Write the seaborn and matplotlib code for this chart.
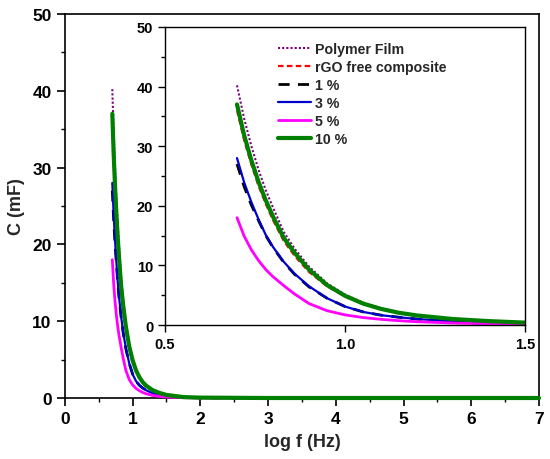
import numpy as np
import pandas as pd
import matplotlib
matplotlib.use("Agg")
import matplotlib.pyplot as plt
import seaborn as sns

# log f values (Hz) at which the curves were read
log_f = [0.70, 0.72, 0.74, 0.76, 0.78, 0.80, 0.83, 0.86, 0.90, 0.95,
         1.00, 1.05, 1.10, 1.15, 1.20, 1.30, 1.40, 1.50, 1.75, 2.00,
         3.00, 4.00, 5.00, 6.00, 7.00]

# capacitance (mF) for each sample
polymer_film = [40.2, 34.6, 30.0, 26.0, 22.6, 19.7, 15.6, 12.8, 9.8, 7.0,
                5.1, 3.75, 2.8, 2.1, 1.65, 1.02, 0.66, 0.42, 0.14, 0.06,
                0.0, 0.0, 0.0, 0.0, 0.0]
rgo_free = [36.0, 31.0, 26.9, 23.3, 20.3, 17.6, 14.1, 11.6, 8.9, 6.5,
            4.8, 3.55, 2.65, 2.0, 1.55, 0.95, 0.6, 0.38, 0.12, 0.05,
            0.0, 0.0, 0.0, 0.0, 0.0]
one_pct = [27.0, 23.2, 20.1, 17.5, 15.0, 13.0, 10.5, 8.5, 6.4, 4.5,
           3.1, 2.2, 1.65, 1.3, 1.0, 0.6, 0.35, 0.2, 0.06, 0.02,
           0.0, 0.0, 0.0, 0.0, 0.0]
three_pct = [28.0, 23.9, 20.6, 17.7, 15.1, 13.1, 10.6, 8.6, 6.5, 4.5,
             3.1, 2.2, 1.65, 1.3, 1.0, 0.6, 0.35, 0.2, 0.06, 0.02,
             0.0, 0.0, 0.0, 0.0, 0.0]
five_pct = [18.0, 14.9, 12.6, 10.8, 9.3, 8.1, 6.6, 5.2, 3.6, 2.4,
            1.7, 1.25, 0.95, 0.72, 0.55, 0.33, 0.2, 0.12, 0.04, 0.01,
            0.0, 0.0, 0.0, 0.0, 0.0]
ten_pct = [37.0, 31.8, 27.6, 24.0, 20.9, 18.2, 14.6, 12.1, 9.3, 6.7,
           4.9, 3.6, 2.7, 2.05, 1.6, 1.0, 0.65, 0.4, 0.12, 0.05,
           0.0, 0.0, 0.0, 0.0, 0.0]

series = [
    ("Polymer Film", polymer_film, "#800080", (0, (1, 1)), 1.5),
    ("rGO free composite", rgo_free, "#ff0000", (0, (2.5, 1.5)), 1.6),
    ("1 %", one_pct, "black", (0, (4, 3)), 2.0),
    ("3 %", three_pct, "#0000cc", "-", 1.6),
    ("5 %", five_pct, "#ff00ff", "-", 2.0),
    ("10 %", ten_pct, "#008000", "-", 3.0),
]

sns.set_style("ticks")
plt.rcParams["font.family"] = ["Liberation Sans", "DejaVu Sans"]
plt.rcParams["font.weight"] = "bold"
plt.rcParams["axes.labelweight"] = "bold"
plt.rcParams["axes.edgecolor"] = "black"
plt.rcParams["axes.linewidth"] = 1.2
plt.rcParams["xtick.color"] = "black"
plt.rcParams["ytick.color"] = "black"

fig = plt.figure(figsize=(5.5, 4.6), dpi=100)
ax = fig.add_axes([0.118, 0.1326, 0.862, 0.835])
ins = fig.add_axes([0.30, 0.2913, 0.6545, 0.648])

for name, vals, color, ls, lw in series:
    df = pd.DataFrame({"x": log_f, "y": vals})
    sns.lineplot(data=df, x="x", y="y", ax=ax, color=color, linestyle=ls,
                 lw=lw, clip_on=False, zorder=3)
    sns.lineplot(data=df, x="x", y="y", ax=ins, color=color, linestyle=ls,
                 lw=lw, label=name)

# main axes
ax.set_xlim(0, 7)
ax.set_ylim(0, 50)
ax.set_xticks(range(0, 8))
ax.set_xticks(np.arange(0.5, 7, 1.0), minor=True)
ax.set_yticks(range(0, 51, 10))
ax.set_yticks(range(5, 50, 10), minor=True)
ax.tick_params(which="major", length=6, width=1.2, labelsize=12.5)
ax.tick_params(which="minor", length=3, width=1.0)
ax.set_xlabel("log f (Hz)", fontsize=13, labelpad=5)
ax.set_ylabel("C (mF)", fontsize=13, labelpad=5)
for s in ax.spines.values():
    s.set_visible(True)

# inset
ins.set_xlim(0.5, 1.5)
ins.set_ylim(0, 50)
ins.set_xticks([0.5, 1.0, 1.5])
ins.set_xticklabels(["0.5", "1.0", "1.5"])
ins.set_yticks(range(0, 51, 10))
ins.set_yticks(range(5, 50, 10), minor=True)
ins.tick_params(which="major", length=5, width=1.0, labelsize=10.5)
ins.tick_params(which="minor", length=3, width=1.0)
ins.set_xlabel("")
ins.set_ylabel("")
for s in ins.spines.values():
    s.set_visible(True)
    s.set_linewidth(1.0)

leg = ins.legend(loc="upper left", bbox_to_anchor=(0.315, 0.95), frameon=False,
                 fontsize=10.2, handlelength=2.3, handletextpad=0.3,
                 labelspacing=0.28, borderpad=0, borderaxespad=0)
for t in leg.get_texts():
    t.set_fontweight("bold")

fig.savefig("out.png", dpi=100)
